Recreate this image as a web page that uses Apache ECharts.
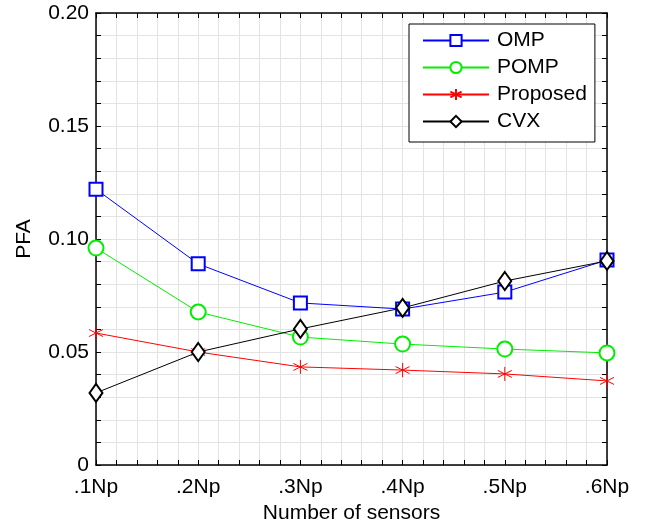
<!DOCTYPE html>
<html>
<head>
<meta charset="utf-8">
<script src="https://cdn.jsdelivr.net/npm/echarts@6/dist/echarts.min.js"></script>
<style>
  html, body { margin: 0; padding: 0; background: #fff; }
  #chart { width: 650px; height: 524px; }
</style>
</head>
<body>
<div id="chart"></div>
<script>
const xLabels = ['.1Np', '.2Np', '.3Np', '.4Np', '.5Np', '.6Np'];
const yTicks = ['0', '0.05', '0.10', '0.15', '0.20'];
const ompData = [0.122, 0.089, 0.0717, 0.069, 0.0765, 0.0907];
const pompData = [0.096, 0.0677, 0.0566, 0.0535, 0.0513, 0.0496];
const proposedData = [0.0584, 0.050, 0.0434, 0.042, 0.0403, 0.0372];
const cvxData = [0.0319, 0.050, 0.0602, 0.0695, 0.0814, 0.0903];

const font = 'Liberation Sans, Arial, Helvetica, sans-serif';
const asterisk = 'path://M10,0L10,20M1.34,5L18.66,15M1.34,15L18.66,5';

function pairs(arr) {
    return arr.map(function (v, i) { return [i, v]; });
}

let chart = echarts.init(document.getElementById('chart'));

function tickAxis(pos, isX) {
    // frame axis on top / right: ticks only
    return {
        type: 'value',
        position: pos,
        min: 0,
        max: isX ? 5 : 0.2,
        interval: isX ? 1 : 0.05,
        axisLine: { show: true, onZero: false, lineStyle: { color: '#000', width: 1.5 } },
        axisTick: { show: true, inside: true, length: 5, lineStyle: { color: '#000' } },
        minorTick: { show: true, splitNumber: 5, length: 5, lineStyle: { color: '#000' } },
        axisLabel: { show: false },
        splitLine: { show: false }
    };
}

let option = {
    animation: false,
    grid: { left: 96, right: 43, top: 13, bottom: 59, outerBoundsMode: 'none', containLabel: false },
    legend: {
        orient: 'vertical',
        left: 409,
        top: 24,
        padding: [6, 8, 10, 13],
        itemWidth: 66,
        itemHeight: 14,
        itemGap: 6,
        backgroundColor: '#fff',
        borderColor: '#000',
        borderWidth: 1,
        textStyle: { fontFamily: font, fontSize: 21, lineHeight: 21, color: '#000', padding: [0, 0, 0, 3] },
        data: ['OMP', 'POMP', 'Proposed', 'CVX']
    },
    xAxis: [{
        type: 'value',
        min: 0,
        max: 5,
        interval: 1,
        name: 'Number of sensors',
        nameLocation: 'middle',
        nameGap: 34,
        nameTextStyle: { fontFamily: font, fontSize: 21, color: '#000' },
        axisLine: { show: true, onZero: false, lineStyle: { color: '#000', width: 1.5 } },
        axisTick: { show: true, inside: true, length: 5, lineStyle: { color: '#000' } },
        minorTick: { show: true, splitNumber: 5, length: 5, lineStyle: { color: '#000' } },
        axisLabel: {
            fontFamily: font, fontSize: 21, color: '#000', margin: 12,
            formatter: function (v) { return xLabels[Math.round(v)]; }
        },
        splitLine: { show: true, lineStyle: { color: '#e3e3e3', width: 1 } },
        minorSplitLine: { show: true, lineStyle: { color: '#e3e3e3', width: 1 } }
    }, tickAxis('top', true)],
    yAxis: [{
        type: 'value',
        min: 0,
        max: 0.2,
        interval: 0.05,
        name: 'PFA',
        nameLocation: 'middle',
        nameGap: 61,
        nameTextStyle: { fontFamily: font, fontSize: 21, color: '#000' },
        axisLine: { show: true, onZero: false, lineStyle: { color: '#000', width: 1.5 } },
        axisTick: { show: true, inside: true, length: 5, lineStyle: { color: '#000' } },
        minorTick: { show: true, splitNumber: 5, length: 5, lineStyle: { color: '#000' } },
        axisLabel: {
            fontFamily: font, fontSize: 21, color: '#000', margin: 7,
            formatter: function (v) { return yTicks[Math.round(v / 0.05)]; }
        },
        splitLine: { show: true, lineStyle: { color: '#e3e3e3', width: 1 } },
        minorSplitLine: { show: true, lineStyle: { color: '#e3e3e3', width: 1 } }
    }, tickAxis('right', false)],
    series: [{
        name: 'OMP',
        type: 'line',
        data: pairs(ompData),
        symbol: 'emptyRect',
        symbolSize: 13,
        color: '#0000ff',
        lineStyle: { width: 1, color: '#0000ff' },
        itemStyle: { color: '#0000ff', borderWidth: 0.8 }
    }, {
        name: 'POMP',
        type: 'line',
        data: pairs(pompData),
        symbol: 'emptyCircle',
        symbolSize: 15,
        color: '#00ee00',
        lineStyle: { width: 1, color: '#00ee00' },
        itemStyle: { color: '#00ee00', borderWidth: 0.8 }
    }, {
        name: 'Proposed',
        type: 'line',
        data: pairs(proposedData),
        symbol: asterisk,
        symbolSize: 14,
        color: '#ff0000',
        lineStyle: { width: 1, color: '#ff0000' },
        itemStyle: { color: 'none', borderColor: '#ff0000', borderWidth: 1 }
    }, {
        name: 'CVX',
        type: 'line',
        data: pairs(cvxData),
        symbol: 'emptyDiamond',
        symbolSize: [13, 18],
        color: '#000',
        lineStyle: { width: 1, color: '#000' },
        itemStyle: { color: '#000', borderWidth: 0.8 }
    }]
};

chart.setOption(option);
</script>
</body>
</html>
